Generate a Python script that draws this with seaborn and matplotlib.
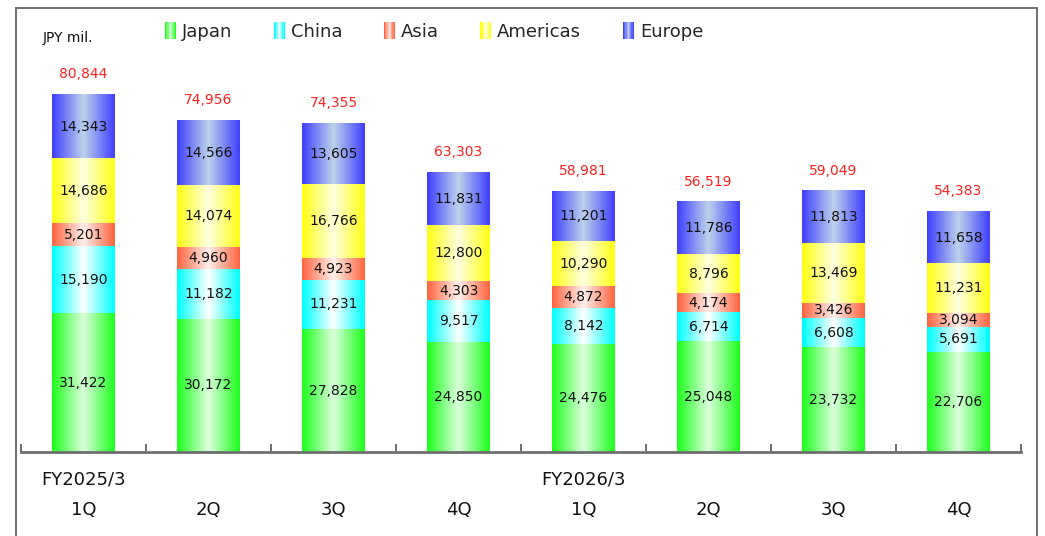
import numpy as np
import pandas as pd
import matplotlib
matplotlib.use("Agg")
import matplotlib.pyplot as plt
import matplotlib.patches as mpatches
from matplotlib.legend_handler import HandlerBase
from matplotlib.colors import to_rgb
import seaborn as sns

# ---- data (JPY mil.) ----
quarters = ["1Q", "2Q", "3Q", "4Q", "1Q", "2Q", "3Q", "4Q"]
fiscal_years = {0: "FY2025/3", 4: "FY2026/3"}
regions = ["Japan", "China", "Asia", "Americas", "Europe"]
japan = [31422, 30172, 27828, 24850, 24476, 25048, 23732, 22706]
china = [15190, 11182, 11231, 9517, 8142, 6714, 6608, 5691]
asia = [5201, 4960, 4923, 4303, 4872, 4174, 3426, 3094]
americas = [14686, 14074, 16766, 12800, 10290, 8796, 13469, 11231]
europe = [14343, 14566, 13605, 11831, 11201, 11786, 11813, 11658]
totals = [80844, 74956, 74355, 63303, 58981, 56519, 59049, 54383]

series = [japan, china, asia, americas, europe]

# edge colour -> centre colour of the horizontal gradient used for each region
edge_colors = ["#1eff1e", "#00ffff", "#ff6440", "#ffff14", "#4040ff"]
center_colors = ["#dcffdc", "#ffffff", "#fff0eb", "#ffffe1", "#bed2eb"]


def gradient_row(c_edge, c_center, n=64):
    e = np.array(to_rgb(c_edge))
    c = np.array(to_rgb(c_center))
    t = np.linspace(-1, 1, n)
    w = 1 - np.abs(t)  # 0 at the edges, 1 in the middle
    return (e[None, :] * (1 - w[:, None]) + c[None, :] * w[:, None])[None, :, :]


sns.set_theme(style="white")
plt.rcParams["font.family"] = ["DejaVu Sans"]

fig = plt.figure(figsize=(10.45, 5.36), dpi=100)
W, H = 1045, 536
ax_left, ax_right = 21, 1021
ax_bottom_px, ax_top_px = 452, 52
ax = fig.add_axes([ax_left / W, 1 - ax_bottom_px / H,
                   (ax_right - ax_left) / W, (ax_bottom_px - ax_top_px) / H])

# figure frame
fig.patches.append(mpatches.Rectangle((16 / W, -0.05), (1037 - 16) / W, 1.05 - 8 / H,
                                      transform=fig.transFigure, fill=False,
                                      edgecolor="#6e6e6e", linewidth=1.4, zorder=0))

xpos = list(range(len(quarters)))
bottom = np.zeros(len(quarters))
for name, vals, ec, cc in zip(regions, series, edge_colors, center_colors):
    df = pd.DataFrame({"q": xpos, "v": vals})
    n_before = len(ax.patches)
    sns.barplot(data=df, x="q", y="v", bottom=bottom.copy(), color=ec,
                width=0.5, saturation=1, linewidth=0, ax=ax, order=xpos)
    grad = gradient_row(ec, cc)
    for p in ax.patches[n_before:]:
        x0, y0 = p.get_x(), p.get_y()
        x1, y1 = x0 + p.get_width(), y0 + p.get_height()
        ax.imshow(grad, extent=(x0, x1, y0, y1), aspect="auto",
                  interpolation="bilinear", zorder=2)
    for i, v in enumerate(vals):
        ax.text(i, bottom[i] + v / 2, f"{v:,}", ha="center", va="center",
                fontsize=10, color="#111111", zorder=4)
    bottom += np.array(vals)

for i, t in enumerate(totals):
    ax.annotate(f"{t:,}", xy=(i, t), xytext=(0, 12), textcoords="offset points",
                ha="center", va="baseline", fontsize=10, color="#ff2020", zorder=4)

ax.set_xlim(-0.5, len(quarters) - 0.5)
ax.set_ylim(0, (ax_bottom_px - ax_top_px) / (357 / 80844))
ax.set_xlabel("")
ax.set_ylabel("")
ax.set_yticks([])
ax.set_xticks([])
ax.set_xticks(np.arange(-0.5, len(quarters)), minor=True)
ax.tick_params(axis="x", which="minor", direction="in", length=6, width=1.4,
               color="#6e6e6e", bottom=True, labelbottom=False)
for s in ["top", "right", "left"]:
    ax.spines[s].set_visible(False)
ax.spines["bottom"].set_color("#6e6e6e")
ax.spines["bottom"].set_linewidth(2)
ax.spines["bottom"].set_zorder(5)

for i, q in enumerate(quarters):
    ax.annotate(q, xy=(i, 0), xycoords=("data", "axes fraction"),
                xytext=(0, -42), textcoords="offset points",
                ha="center", va="center", fontsize=13, color="#111111",
                annotation_clip=False)
for i, fy in fiscal_years.items():
    ax.annotate(fy, xy=(i, 0), xycoords=("data", "axes fraction"),
                xytext=(0, -20), textcoords="offset points",
                ha="center", va="center", fontsize=13, color="#111111",
                annotation_clip=False)

fig.text(43 / W, 1 - 38 / H, "JPY mil.", fontsize=10, ha="left", va="center",
         color="#111111")


class GradientHandler(HandlerBase):
    def __init__(self, c_edge, c_center):
        super().__init__()
        self.c_edge, self.c_center = c_edge, c_center

    def create_artists(self, legend, orig_handle, xdescent, ydescent, width,
                       height, fontsize, trans):
        row = gradient_row(self.c_edge, self.c_center, n=9)[0]
        n = len(row)
        arts = []
        for k, col in enumerate(row):
            r = mpatches.Rectangle((-xdescent + k * width / n, -ydescent - 1.5),
                                   width / n * 1.05, height + 3, facecolor=col,
                                   edgecolor="none", transform=trans)
            arts.append(r)
        return arts


handles = [mpatches.Patch(color=ec, label=name) for name, ec in zip(regions, edge_colors)]
handler_map = {h: GradientHandler(ec, cc) for h, ec, cc in zip(handles, edge_colors, center_colors)}
fig.legend(handles=handles, labels=regions, handler_map=handler_map, ncol=5,
           loc="center left", bbox_to_anchor=(165 / W, 1 - 32 / H),
           bbox_transform=fig.transFigure, frameon=False, fontsize=13,
           handlelength=0.61, handleheight=0.68, handletextpad=0.33,
           columnspacing=2.3, borderpad=0, borderaxespad=0)

fig.savefig("out.png", dpi=100)
